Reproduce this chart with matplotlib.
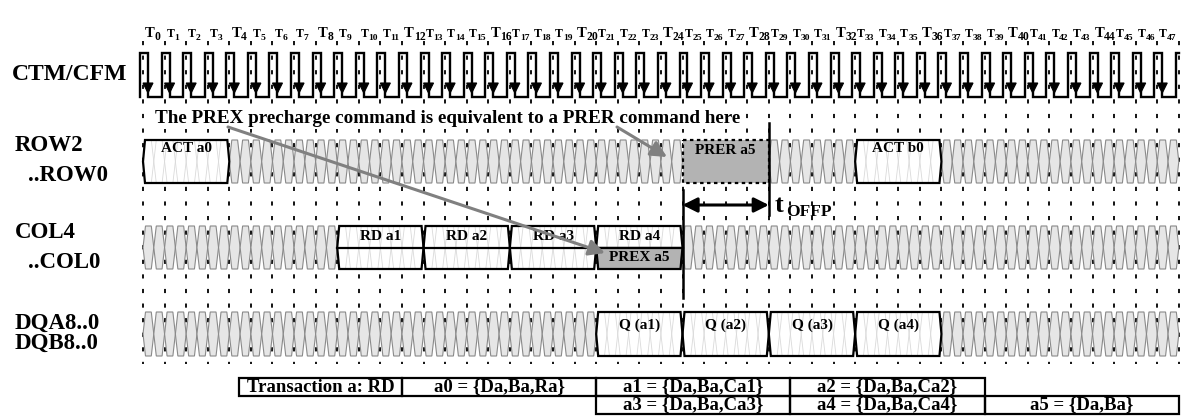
import matplotlib
matplotlib.use("Agg")
import matplotlib.pyplot as plt
from matplotlib.patches import Polygon
import numpy as np

plt.rcParams["font.family"] = ["Liberation Serif", "DejaVu Serif"]
plt.rcParams["font.weight"] = "bold"
plt.rcParams["lines.scale_dashes"] = False

# ── Timing data (positions in clock cycles) ──────────────────────────────────
N_CYCLES = 48
CLOCK_LABELS = list(range(48))

ROW_BOXES = [("ACT a0", 0, 4), ("ACT b0", 33, 37)]
ROW_PRER = ("PRER a5", 25, 29)
ROW_IDLE = [(4, 25), (29, 33), (37, 48)]

COL_BOXES = [("RD a1", 9, 13), ("RD a2", 13, 17), ("RD a3", 17, 21), ("RD a4", 21, 25)]
COL_PREX = ("PREX a5", 21, 25)
COL_IDLE = [(0, 9), (25, 48)]

DQ_BOXES = [("Q (a1)", 21, 25), ("Q (a2)", 25, 29), ("Q (a3)", 29, 33), ("Q (a4)", 33, 37)]
DQ_IDLE = [(0, 21), (37, 48)]

T_OFFP = (25, 29)

TABLE_ROW1 = [("Transaction a: RD", 4.45, 12), ("a0 = {Da,Ba,Ra}", 12, 21),
              ("a1 = {Da,Ba,Ca1}", 21, 30), ("a2 = {Da,Ba,Ca2}", 30, 39)]
TABLE_ROW2 = [("a3 = {Da,Ba,Ca3}", 21, 30), ("a4 = {Da,Ba,Ca4}", 30, 39),
              ("a5 = {Da,Ba}", 39, 48)]

NOTE = "The PREX precharge command is equivalent to a PRER command here"

# ── Layout (pixels) ───────────────────────────────────────────────────────────
W, H = 1184, 419
X0, DX = 143.0, 21.58
CLK_Y = (53, 97)
ROW_Y = (140, 183)
COL_Y = (226, 269)
DQ_Y = (312, 356)
TAB_Y = (378, 396, 414)


def px(x):
    """pixel x -> cycle units"""
    return (x - X0) / DX


def draw_idle(ax, t0, t1, top, bot):
    mid = (top + bot) / 2
    s = 2.5 / DX
    for u in np.arange(t0, t1, 0.5):
        poly = [(u, mid), (u + s, top), (u + 0.5 - s, top), (u + 0.5, mid),
                (u + 0.5 - s, bot), (u + s, bot)]
        ax.add_patch(Polygon(poly, closed=True, fc="#e6e6e6", ec="#8a8a8a",
                             lw=0.8, zorder=2))


def box_poly(t0, t1, top, bot):
    s = 2.0 / DX
    mid = (top + bot) / 2
    return [(t0, mid), (t0 + s, top), (t1 - s, top), (t1, mid),
            (t1 - s, bot), (t0 + s, bot)]


def draw_box(ax, label, t0, t1, top, bot, text_y):
    poly = box_poly(t0, t1, top, bot)
    ax.add_patch(Polygon(poly, closed=True, fc="white", ec="none", zorder=2))
    s = 2.5 / DX
    for u in np.arange(t0 + 0.5, t1, 0.5):
        ax.plot([u - s, u + s], [top, bot], color="#dadada", lw=0.6, zorder=3)
        ax.plot([u - s, u + s], [bot, top], color="#dadada", lw=0.6, zorder=3)
    ax.add_patch(Polygon(poly, closed=True, fc="none", ec="black", lw=1.6, zorder=5))
    ax.text((t0 + t1) / 2, text_y, label, fontsize=11, ha="center", va="center",
            zorder=6)


fig = plt.figure(figsize=(W / 100, H / 100), dpi=100)
ax = fig.add_axes([0, 0, 1, 1])
ax.set_xlim(px(0), px(W))
ax.set_ylim(H, 0)
ax.axis("off")

# dotted cycle grid
ax.vlines(np.arange(0, N_CYCLES + 1), 41, 364, colors="black", lw=1.3,
          linestyles=(0, (3, 7.5)), zorder=1)

# clock labels
for i in CLOCK_LABELS:
    big = i % 4 == 0
    fs = 10.5 if big else 8.5
    x = i + 2 / DX
    ax.text(x, 37, "T", fontsize=fs, ha="left", va="baseline", zorder=6)
    tw = 0.667 * fs * 100 / 72 / DX
    ax.text(x + tw, 40, str(i), fontsize=fs * 0.8, ha="left", va="baseline",
            zorder=6)

# clock waveform
cx, cy = [], []
r_off, f_off = -3.0 / DX, 5.0 / DX
for i in range(N_CYCLES):
    r, f = i + r_off, i + f_off
    cx += [r, r, f, f]
    cy += [CLK_Y[1], CLK_Y[0], CLK_Y[0], CLK_Y[1]]
    ax.add_patch(Polygon([(f - 5 / DX, 83), (f + 5 / DX, 83), (f, 93)],
                         closed=True, fc="black", ec="black", lw=0.8, zorder=5))
end = N_CYCLES + r_off
cx += [end, end, N_CYCLES + 0.5 / DX]
cy += [CLK_Y[1], CLK_Y[0], CLK_Y[0]]
ax.plot(cx, cy, color="black", lw=1.7, zorder=4, solid_joinstyle="miter")

# ROW bus
for t0, t1 in ROW_IDLE:
    draw_idle(ax, t0, t1, *ROW_Y)
for label, t0, t1 in ROW_BOXES:
    draw_box(ax, label, t0, t1, *ROW_Y, text_y=ROW_Y[0] + 8)
lab, t0, t1 = ROW_PRER
ax.add_patch(Polygon([(t0, ROW_Y[0]), (t1, ROW_Y[0]), (t1, ROW_Y[1]), (t0, ROW_Y[1])],
                     closed=True, fc="#b3b3b3", ec="black", lw=1.6,
                     ls=(0, (2.5, 2.5)), zorder=5))
ax.text((t0 + t1) / 2, ROW_Y[0] + 10, lab, fontsize=11, ha="center", va="center",
        zorder=6)

# COL bus
for t0, t1 in COL_IDLE:
    draw_idle(ax, t0, t1, *COL_Y)
col_mid = (COL_Y[0] + COL_Y[1]) / 2
for label, t0, t1 in COL_BOXES:
    draw_box(ax, label, t0, t1, *COL_Y, text_y=COL_Y[0] + 10)
lab, t0, t1 = COL_PREX
s = 2.0 / DX
ax.add_patch(Polygon([(t0, col_mid), (t1, col_mid), (t1 - s, COL_Y[1]), (t0 + s, COL_Y[1])],
                     closed=True, fc="#b3b3b3", ec="#333333", lw=1.0, zorder=4))
ax.text((t0 + t1) / 2, col_mid + 9.5, lab, fontsize=11, ha="center", va="center",
        zorder=6)
ax.plot([COL_BOXES[0][1], COL_BOXES[-1][2]], [col_mid, col_mid], color="black",
        lw=1.6, zorder=5)

# DQ bus
for t0, t1 in DQ_IDLE:
    draw_idle(ax, t0, t1, *DQ_Y)
for label, t0, t1 in DQ_BOXES:
    draw_box(ax, label, t0, t1, *DQ_Y, text_y=DQ_Y[0] + 13)

# tOFFP marker
ax.plot([T_OFFP[0]] * 2, [190, 298], color="black", lw=1.8, zorder=7)
ax.plot([T_OFFP[1]] * 2, [123, 215], color="black", lw=1.8, zorder=7)
ax.annotate("", xy=(T_OFFP[0], 205), xytext=(T_OFFP[1], 205),
            arrowprops=dict(arrowstyle="<|-|>", mutation_scale=22, lw=2.2,
                            color="black", shrinkA=0, shrinkB=0), zorder=7)
ax.text(px(775), 205, "t", fontsize=19, ha="left", va="center", zorder=7)
ax.text(px(786), 212, "OFFP", fontsize=12.5, ha="left", va="center", zorder=7)

# note with arrows
ax.text(px(155), 118, NOTE, fontsize=13.8, ha="left", va="center", zorder=6,
        bbox=dict(fc="white", ec="none", pad=1.5))
arrow_kw = dict(arrowstyle="-|>", mutation_scale=24, lw=2.2, color="#808080",
                shrinkA=0, shrinkB=0)
ax.annotate("", xy=(px(667), 157), xytext=(px(617), 127), arrowprops=arrow_kw, zorder=8)
ax.annotate("", xy=(px(605), 253), xytext=(px(228), 127), arrowprops=arrow_kw, zorder=8)

# signal names
ax.text(px(12), 75, "CTM/CFM", fontsize=17, ha="left", va="center")
ax.text(px(15), 145, "ROW2", fontsize=16.5, ha="left", va="center")
ax.text(px(28), 175, "..ROW0", fontsize=16.5, ha="left", va="center")
ax.text(px(15), 232, "COL4", fontsize=16.5, ha="left", va="center")
ax.text(px(28), 262, "..COL0", fontsize=16.5, ha="left", va="center")
ax.text(px(15), 323, "DQA8..0", fontsize=16.5, ha="left", va="center")
ax.text(px(15), 343, "DQB8..0", fontsize=16.5, ha="left", va="center")

# transaction table
for row, (ya, yb) in zip([TABLE_ROW1, TABLE_ROW2], [TAB_Y[:2], TAB_Y[1:]]):
    for label, t0, t1 in row:
        ax.add_patch(Polygon([(t0, ya), (t1, ya), (t1, yb), (t0, yb)], closed=True,
                             fc="none", ec="black", lw=1.6, zorder=5))
        ax.text((t0 + t1) / 2, (ya + yb) / 2, label, fontsize=13.5, ha="center",
                va="center", zorder=6)

fig.savefig("out.png", dpi=100)
